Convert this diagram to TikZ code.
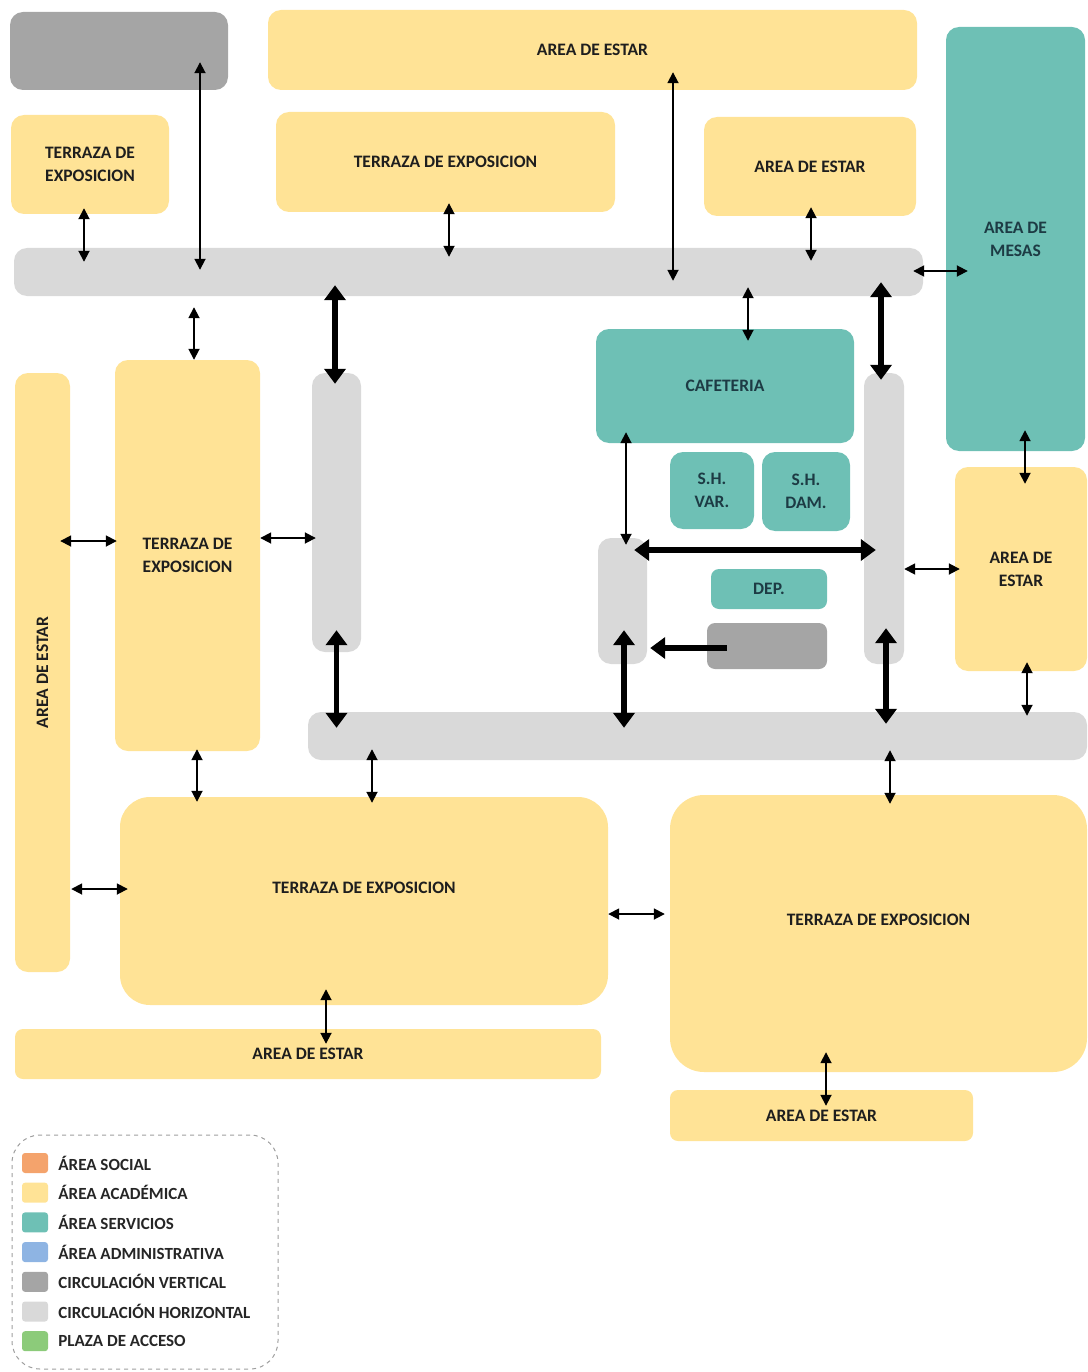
\documentclass[tikz,border=0pt]{standalone}
\usepackage{fontspec}
\setmainfont{Carlito}[BoldFont={Carlito Bold}]
\usetikzlibrary{arrows.meta,calc,positioning}

\definecolor{cAca}{HTML}{FFE396}
\definecolor{cSrv}{HTML}{6EC0B5}
\definecolor{cHor}{HTML}{D9D9D9}
\definecolor{cVer}{HTML}{A5A5A5}
\definecolor{cSoc}{HTML}{F4A36C}
\definecolor{cAdm}{HTML}{8EB4E3}
\definecolor{cPla}{HTML}{8CCB7A}
\definecolor{cText}{HTML}{1E1E1E}
\definecolor{cSrvText}{HTML}{1D3B44}
\definecolor{cLeg}{gray}{0.62}

\begin{document}
\begin{tikzpicture}[x=1pt, y=-1pt,
  zone/.style={rounded corners=13pt, inner sep=0pt, align=center,
    font=\fontsize{17.5}{23}\selectfont\bfseries, text=cText},
  aca/.style={zone, fill=cAca},
  srv/.style={zone, fill=cSrv, text=cSrvText},
  hor/.style={zone, fill=cHor},
  ver/.style={zone, fill=cVer},
  lk/.style={line width=1.8pt, {Triangle[length=11pt,width=11pt]}-{Triangle[length=11pt,width=11pt]}},
  lkb/.style={line width=5.5pt, {Triangle[length=15pt,width=21pt]}-{Triangle[length=15pt,width=21pt]}},
  lkbone/.style={line width=5.5pt, -{Triangle[length=15pt,width=21pt]}},
  key/.style={rounded corners=3pt, minimum width=26, minimum height=20, inner sep=0pt},
  keytxt/.style={font=\fontsize{17}{20}\selectfont\bfseries, text=black!85, inner sep=0pt}]

\useasboundingbox (0,0) rectangle (1087,1372);

% ── Upper band ──
\node[ver, minimum width=218, minimum height=78] (g1) at (119,51) {};
\node[aca, minimum width=649, minimum height=80] (estA) at (592.5,50) {AREA DE ESTAR};
\node[aca, minimum width=158, minimum height=99] (terA) at (90,164.5) {TERRAZA DE\\EXPOSICION};
\node[aca, minimum width=339, minimum height=100] (terB) at (445.5,162) {TERRAZA DE EXPOSICION};
\node[aca, minimum width=212, minimum height=99] (estB) at (810,166.5) {AREA DE ESTAR};
\node[srv, minimum width=139, minimum height=424] (mesas) at (1015.5,239) {AREA DE\\MESAS};
\node[hor, minimum width=909, minimum height=48] (hcT) at (468.5,272) {};

% ── Middle band ──
\node[aca, minimum width=55, minimum height=599] (estL) at (42.5,672.5) {};
\node[zone, rotate=90] (estLt) at (estL) {AREA DE ESTAR};
\node[aca, minimum width=145, minimum height=391] (terL) at (187.5,555.5) {TERRAZA DE\\EXPOSICION};
\node[hor, minimum width=49, minimum height=279] (vc1) at (336.5,512.5) {};
\node[srv, minimum width=258, minimum height=114] (cafe) at (725,386) {CAFETERIA};
\node[srv, minimum width=84, minimum height=77] (shv) at (712,490.5) {S.H.\\VAR.};
\node[srv, minimum width=88, minimum height=79] (shd) at (806,491.5) {S.H.\\DAM.};
\node[hor, minimum width=49, minimum height=126] (vc2) at (622.5,601) {};
\node[srv, minimum width=116, minimum height=40, rounded corners=8pt] (dep) at (769,589) {DEP.};
\node[ver, minimum width=120, minimum height=46, rounded corners=8pt] (g2) at (767,646) {};
\node[hor, minimum width=40, minimum height=291] (vc3) at (884,518.5) {};
\node[aca, minimum width=132, minimum height=204] (estR) at (1021,569) {AREA DE\\ESTAR};
\node[hor, minimum width=779, minimum height=48] (hcB) at (697.5,736) {};

% ── Lower band ──
\node[aca, minimum width=488, minimum height=208, rounded corners=30pt,
  label={[zone, yshift=13pt]center:TERRAZA DE EXPOSICION}] (terC) at (364,901) {};
\node[aca, minimum width=417, minimum height=277, rounded corners=34pt,
  label={[zone, yshift=14pt]center:TERRAZA DE EXPOSICION}] (terD) at (878.5,933.5) {};
\node[aca, minimum width=586, minimum height=50, rounded corners=8pt] (estC) at (308,1054) {AREA DE ESTAR};
\node[aca, minimum width=303, minimum height=51, rounded corners=8pt] (estD) at (821.5,1115.5) {AREA DE ESTAR};

% ── Thin links ──
\draw[lk] ($(terA.south)+(-6,-6)$) -- ($(terA.south |- hcT.north)+(-6,14)$);
\draw[lk] ($(g1.south)+(81,-28)$) -- ($(g1.south |- hcT.north)+(81,22)$);
\draw[lk] ($(terB.south)+(3.5,-9)$) -- ($(terB.south |- hcT.north)+(3.5,9)$);
\draw[lk] ($(estA.south)+(80.5,-18)$) -- ($(estA.south |- hcT.north)+(80.5,33)$);
\draw[lk] ($(estB.south)+(1,-9)$) -- ($(estB.south |- hcT.north)+(1,13)$);
\draw[lk] ($(hcT.east)+(-10,-1)$) -- ($(hcT.east -| mesas.west)+(22,-1)$);
\draw[lk] ($(cafe.north |- hcT.south)+(23,-9)$) -- ($(cafe.north)+(23,12)$);
\draw[lk] ($(terL.north |- hcT.south)+(6.5,11)$) -- ($(terL.north)+(6.5,0)$);
\draw[lk] ($(terL.west -| estL.east)+(-10,-14.5)$) -- ($(terL.west)+(2,-14.5)$);
\draw[lk] ($(terL.east)+(0,-17.5)$) -- ($(terL.east -| vc1.west)+(4,-17.5)$);
\draw[lk] ($(vc2.north |- cafe.south)+(3.5,-11)$) -- ($(vc2.north)+(3.5,7)$);
\draw[lk] ($(mesas.south)+(9.5,-21)$) -- ($(mesas.south |- estR.north)+(9.5,17)$);
\draw[lk] (estR.west -| vc3.east) -- ($(estR.west)+(5,0)$);
\draw[lk] ($(estR.south)+(6,-9)$) -- ($(estR.south |- hcB.north)+(6,4)$);
\draw[lk] ($(terL.south)+(9.5,-2)$) -- ($(terL.south |- terC.north)+(9.5,5)$);
\draw[lk] ($(terC.north |- hcB.south)+(8,-11)$) -- ($(terC.north)+(8,6)$);
\draw[lk] ($(terD.north |- hcB.south)+(11.5,-10)$) -- ($(terD.north)+(11.5,9)$);
\draw[lk] ($(terC.west -| estL.east)+(1,-12)$) -- ($(terC.west)+(8,-12)$);
\draw[lk] ($(terC.east)+(0,13)$) -- ($(terC.east -| terD.west)+(-5,13)$);
\draw[lk] ($(terC.south)+(-38,-16)$) -- ($(terC.south |- estC.north)+(-38,15)$);
\draw[lk] ($(estD.north |- terD.south)+(4.5,-20)$) -- ($(estD.north)+(4.5,16)$);

% ── Main circulation links ──
\draw[lkb] ($(vc1.north |- hcT.south)+(-1.5,-11)$) -- ($(vc1.north)+(-1.5,11)$);
\draw[lkb] ($(vc3.north |- hcT.south)+(-3,-14)$) -- ($(vc3.north)+(-3,7)$);
\draw[lkb] ($(vc1.south)+(0,-22)$) -- ($(vc1.south |- hcB.north)+(0,16)$);
\draw[lkb] ($(vc2.south)+(1.5,-34)$) -- ($(vc2.south |- hcB.north)+(1.5,16)$);
\draw[lkb] ($(vc3.south)+(2,-36)$) -- ($(vc3.south |- hcB.north)+(2,12)$);
\draw[lkb] ($(vc2.east)+(-13,-51)$) -- ($(vc2.east -| vc3.west)+(12,-51)$);
\draw[lkbone] ($(g2.west)+(20,2)$) -- ($(g2.west -| vc2.east)+(3,2)$);

% ── Legend ──
\node[draw=cLeg, line width=1pt, dash pattern=on 4pt off 4pt, rounded corners=28pt,
  minimum width=266, minimum height=234, inner sep=0pt] (leg) at (145,1252) {};
\foreach \col/\txt [count=\i] in {cSoc/ÁREA SOCIAL, cAca/ÁREA ACADÉMICA,
    cSrv/ÁREA SERVICIOS, cAdm/ÁREA ADMINISTRATIVA, cVer/CIRCULACIÓN VERTICAL,
    cHor/CIRCULACIÓN HORIZONTAL, cPla/PLAZA DE ACCESO} {
  \node[key, fill=\col] (k\i) at (35,1163+29.7*\i-29.7) {};
  \node[keytxt, right=10pt of k\i] (t\i) {\txt};
}

\end{tikzpicture}
\end{document}
